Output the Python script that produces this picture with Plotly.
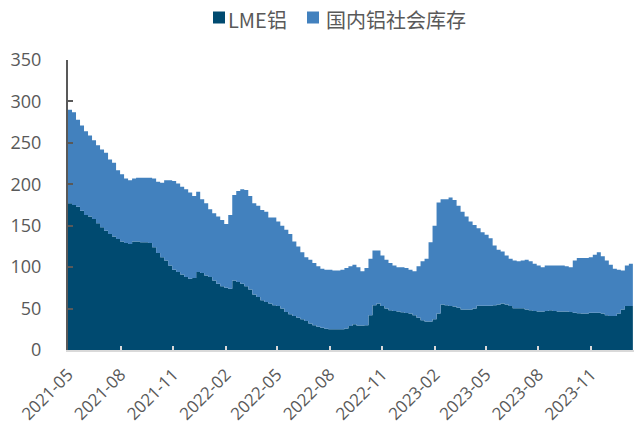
import datetime as dt
import plotly.graph_objects as go

start = dt.date(2021, 5, 1)

lme = [177, 175, 173, 168, 163, 161, 158, 153, 148, 144,
       140, 137, 134, 131, 129, 128, 131, 131, 130, 130,
       129, 124, 117, 112, 108, 102, 97, 94, 91, 88,
       86, 87, 94, 93, 90, 88, 84, 80, 77, 75,
       74, 84, 82, 80, 77, 73, 67, 64, 60, 58,
       56, 54, 53, 50, 46, 43, 41, 39, 37, 35,
       32, 30, 28, 27, 25.5, 25, 25, 25, 25, 26,
       29, 31, 29.5, 29.5, 30, 42, 54, 56, 53, 50,
       48, 47, 46.6, 45.5, 44.8, 44, 42, 39, 36, 34.5,
       34.3, 37, 44, 55, 54, 53, 52.5, 51, 49, 49,
       49, 50, 53.4, 53.4, 53.4, 53.4, 54, 55, 56, 55,
       53, 50.5, 50.5, 50.5, 49, 48, 47, 46.5, 46.5, 47,
       48, 47, 46.5, 46.5, 46.5, 46, 45, 44.5, 44, 44,
       45, 45, 45, 44, 42, 41, 41, 44, 49, 53,
       53, 53]

domestic = [113, 112, 105, 103, 101, 98, 95, 94, 94, 94,
            90, 89, 83, 81, 78, 77, 76, 77, 78, 78,
            79, 83, 86, 90, 97, 103, 107, 107, 106, 106,
            104, 99, 97, 89, 87, 82, 81, 81, 80, 77,
            89, 103, 110, 114, 116, 113, 110, 110, 109, 109,
            104, 106, 102, 100, 99, 97, 90, 86, 81, 77,
            77, 75, 73, 71, 71.5, 72, 71, 71, 72, 73,
            72, 72, 70.5, 65.5, 69, 68, 66, 64, 61, 59,
            57, 55, 53.4, 54.5, 54.2, 53, 53, 62, 71, 75.5,
            95.7, 113, 134, 127, 128, 131, 128.5, 123, 118, 112,
            106, 101, 93.6, 88.6, 85.6, 81.6, 72, 66, 63, 59,
            57, 57.5, 56.5, 57.5, 60, 59, 57, 55.5, 53.5, 55,
            54, 55, 55.5, 55.5, 54.5, 54, 63, 66.5, 67, 67,
            67, 70, 73, 69, 66, 62, 57, 53, 47, 49,
            51, 49]

series_names = ["LME铝", "国内铝社会库存"]
series_colors = ["#004A70", "#4281BE"]

dates = [start + dt.timedelta(days=7 * i) for i in range(len(lme))]

tick_labels = ["2021-05", "2021-08", "2021-11", "2022-02", "2022-05", "2022-08",
               "2022-11", "2023-02", "2023-05", "2023-08", "2023-11"]
tick_vals = [t + "-01" for t in tick_labels]

W, H = 634, 430
ML, MR, MT, MB = 68, 0, 60, 80
PW, PH = W - ML - MR, H - MT - MB


def px_x(px):
    return (px - ML) / PW


def px_y(py):
    return (H - MB - py) / PH


fig = go.Figure()
for vals, name, col in zip([lme, domestic], series_names, series_colors):
    fig.add_trace(go.Scatter(
        x=dates, y=vals, name=name, stackgroup="one", mode="none",
        line_shape="hv", fillcolor=col, showlegend=False))

# legend drawn manually (small squares + text)
legend_items = [(213, 227), (307, 325)]
for (sq_x, tx), name, col in zip(legend_items, series_names, series_colors):
    fig.add_shape(type="rect", xref="paper", yref="paper",
                  x0=px_x(sq_x), x1=px_x(sq_x + 12), y0=px_y(23.5), y1=px_y(11.5),
                  fillcolor=col, line=dict(width=0))
    fig.add_annotation(xref="paper", yref="paper", x=px_x(tx - 1), y=px_y(19.5),
                       xanchor="left", yanchor="middle", showarrow=False,
                       text=name, font=dict(family="Noto Sans CJK SC", size=20, color="#595959"))

fig.update_layout(
    width=W, height=H,
    margin=dict(l=ML, r=MR, t=MT, b=MB),
    paper_bgcolor="white", plot_bgcolor="white",
    font=dict(family="Open Sans, Liberation Sans, sans-serif", color="#595959"),
    showlegend=False,
)
fig.update_xaxes(
    type="date", range=["2021-05-01", "2024-01-15"], automargin=False,
    tickvals=tick_vals, ticktext=tick_labels, tickangle=-45,
    ticks="inside", ticklen=4, tickcolor="#D9D9D9", tickwidth=1.5,
    showline=True, linecolor="#D9D9D9", linewidth=2,
    showgrid=False, zeroline=False, ticklabelstandoff=6,
    tickfont=dict(size=17, color="#595959"),
)
fig.update_yaxes(
    range=[0, 350], tickvals=[0, 50, 100, 150, 200, 250, 300, 350], automargin=False,
    ticks="inside", ticklen=5, tickcolor="#595959", tickwidth=1.5,
    showline=True, linecolor="#595959", linewidth=2,
    showgrid=False, zeroline=False, ticklabelstandoff=21,
    tickfont=dict(size=18, color="#595959"),
)

fig.write_html("out.html", config={"displayModeBar": False},
               post_script="document.body.style.margin='0';")
